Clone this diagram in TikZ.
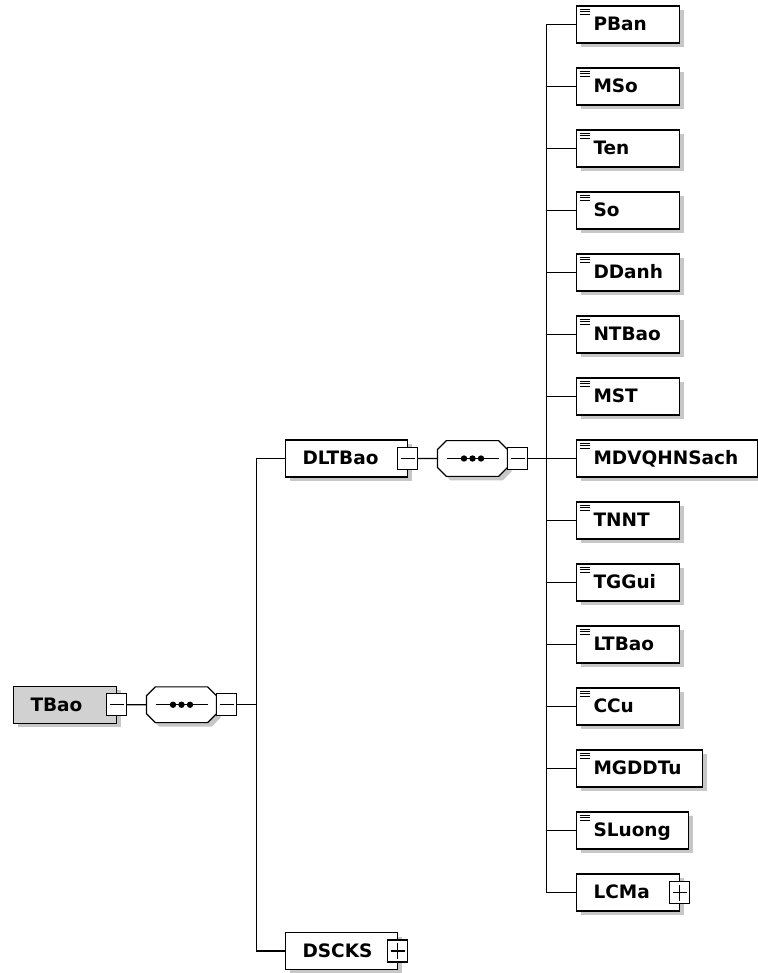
\documentclass[tikz,border=0pt]{standalone}
\usepackage{fontspec}
\newfontfamily\schemafont{DejaVu Sans}
\usetikzlibrary{positioning,shapes.misc,shadows}

\begin{document}
\begin{tikzpicture}[x=1pt,y=1pt]
\tikzstyle{elem}=[rectangle, draw=black, line width=1.2pt, outer sep=0pt, fill=white, font=\schemafont\bfseries\fontsize{18.5}{20}\selectfont, inner xsep=17pt, inner ysep=0pt, minimum height=37pt, text height=13.5pt, text depth=1pt, text width=69pt, align=left, drop shadow={shadow xshift=4pt, shadow yshift=-4pt, opacity=1, fill=black!22}]
\tikzstyle{leaf}=[elem, path picture={\draw[black, line width=.8pt] ([xshift=3pt,yshift=-3pt]path picture bounding box.north west) -- ++(10pt,0) ++(-10pt,-2.7pt) -- ++(10pt,0) ++(-10pt,-2.7pt) -- ++(10pt,0);}]
\tikzstyle{togminus}=[rectangle, draw=black, line width=1.2pt, outer sep=0pt, fill=white, minimum width=20pt, minimum height=22pt, inner sep=0pt, path picture={\draw[black, line width=1.1pt] ([xshift=3pt]path picture bounding box.west) -- ([xshift=-3pt]path picture bounding box.east);}]
\tikzstyle{togplus}=[togminus, path picture={\draw[black, line width=1.1pt] ([xshift=3pt]path picture bounding box.west) -- ([xshift=-3pt]path picture bounding box.east) ([yshift=-3pt]path picture bounding box.north) -- ([yshift=3pt]path picture bounding box.south);}]
\tikzstyle{compositor}=[chamfered rectangle, chamfered rectangle xsep=6pt, draw=black, line width=1.2pt, outer sep=0pt, fill=white, inner sep=0pt, text width=58pt, text height=30pt, text depth=0pt, drop shadow={shadow xshift=4pt, shadow yshift=-4pt, opacity=1, fill=black!22}, path picture={\draw[black, line width=1.2pt] ([xshift=9pt]path picture bounding box.west) -- ([xshift=-9pt]path picture bounding box.east); \fill[black] (path picture bounding box.center) circle (3.2pt) ++(-8.5pt,0) circle (3.2pt) ++(17pt,0) circle (3.2pt);}]
\tikzstyle{wire}=[line width=1.3pt]

  \useasboundingbox (0,0) rectangle (757,-973);

  % root element and its sequence
  \node (tbao) [elem, fill=black!18, anchor=west] at (13.5,-704.75) {TBao};
  \node[togminus] (tbao_tog) at (tbao.east) {};
  \node[compositor] (seq_a) [right=20pt of tbao_tog] {};
  \node[togminus] (seq_a_tog) [right=0pt of seq_a] {};
  \coordinate[right=20pt of seq_a_tog] (bus_a);

  \node (dltbao) [elem, text width=88pt, above right=246.25pt and 29pt of bus_a, anchor=west] {DLTBao};
  \node (dscks) [elem, text width=78pt, below right=246.25pt and 29pt of bus_a, anchor=west] {DSCKS};
  \node[togminus] (dltbao_tog) at (dltbao.east) {};
  \node[togplus] (dscks_tog) at (dscks.east) {};

  % sequence of DLTBao
  \node[compositor] (seq_b) [right=20pt of dltbao_tog] {};
  \node[togminus] (seq_b_tog) [right=0pt of seq_b] {};
  \coordinate[right=19pt of seq_b_tog] (bus_b);

  % child elements
  \node (mdvqhnsach) [leaf, text width=147pt, right=30pt of bus_b] {MDVQHNSach};
  \node (mst) [leaf, above=25pt of mdvqhnsach.north west, anchor=south west] {MST};
  \node (ntbao) [leaf, above=25pt of mst.north west, anchor=south west] {NTBao};
  \node (ddanh) [leaf, above=25pt of ntbao.north west, anchor=south west] {DDanh};
  \node (so) [leaf, above=25pt of ddanh.north west, anchor=south west] {So};
  \node (ten) [leaf, above=25pt of so.north west, anchor=south west] {Ten};
  \node (mso) [leaf, above=25pt of ten.north west, anchor=south west] {MSo};
  \node (pban) [leaf, above=25pt of mso.north west, anchor=south west] {PBan};
  \node (tnnt) [leaf, below=25pt of mdvqhnsach.south west, anchor=north west] {TNNT};
  \node (tggui) [leaf, below=25pt of tnnt.south west, anchor=north west] {TGGui};
  \node (ltbao) [leaf, below=25pt of tggui.south west, anchor=north west] {LTBao};
  \node (ccu) [leaf, below=25pt of ltbao.south west, anchor=north west] {CCu};
  \node (mgddtu) [leaf, text width=92pt, below=25pt of ccu.south west, anchor=north west] {MGDDTu};
  \node (sluong) [leaf, text width=78pt, below=25pt of mgddtu.south west, anchor=north west] {SLuong};
  \node (lcma) [elem, below=25pt of sluong.south west, anchor=north west] {LCMa};
  \node[togplus] (lcma_tog) at (lcma.east) {};

  % connectors
  \path (tbao_tog) edge[wire] (seq_a)
        (seq_a_tog) edge[wire] (bus_a)
        (dltbao_tog) edge[wire] (seq_b)
        (seq_b_tog) edge[wire] (bus_b)
        (bus_b) edge[wire] (mdvqhnsach);
  \draw[line width=1.8pt] (dltbao.west) -| (bus_a) |- (dscks.west);
  \draw[line width=1.8pt] (pban.west) -| (bus_b) |- (lcma.west);
  \path (bus_b |- mso.west) edge[wire] (mso.west)
        (bus_b |- ten.west) edge[wire] (ten.west)
        (bus_b |- so.west) edge[wire] (so.west)
        (bus_b |- ddanh.west) edge[wire] (ddanh.west)
        (bus_b |- ntbao.west) edge[wire] (ntbao.west)
        (bus_b |- mst.west) edge[wire] (mst.west)
        (bus_b |- tnnt.west) edge[wire] (tnnt.west)
        (bus_b |- tggui.west) edge[wire] (tggui.west)
        (bus_b |- ltbao.west) edge[wire] (ltbao.west)
        (bus_b |- ccu.west) edge[wire] (ccu.west)
        (bus_b |- mgddtu.west) edge[wire] (mgddtu.west)
        (bus_b |- sluong.west) edge[wire] (sluong.west);

\end{tikzpicture}
\end{document}
